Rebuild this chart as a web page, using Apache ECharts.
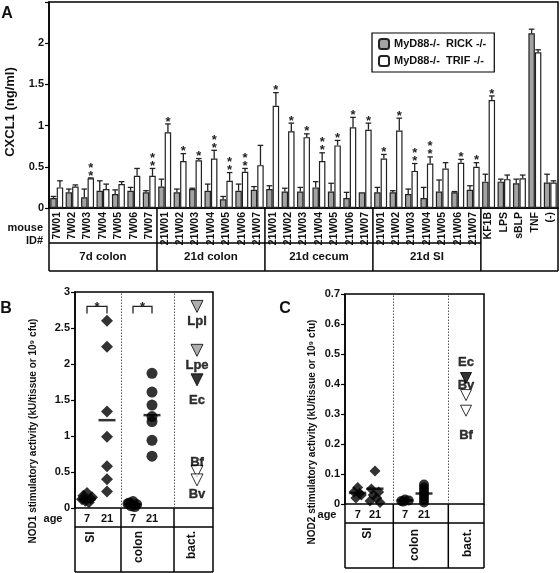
<!DOCTYPE html>
<html><head><meta charset="utf-8">
<script src="https://cdn.jsdelivr.net/npm/echarts@6/dist/echarts.min.js"></script>
<style>html,body{margin:0;padding:0;background:#fff}#c{width:560px;height:573px}</style>
</head><body><div id="c"></div>
<script>
// ---------- Panel A data ----------
const idLabels = ['7W01','7W02','7W03','7W04','7W05','7W06','7W07',
 '21W01','21W02','21W03','21W04','21W05','21W06','21W07',
 '21W01','21W02','21W03','21W04','21W05','21W06','21W07',
 '21W01','21W02','21W03','21W04','21W05','21W06','21W07',
 'KF1B','LPS','sBLP','TNF','(-)'];
const groupLabels = ['7d colon','21d colon','21d cecum','21d SI'];
const groupSizes = [7,7,7,7];
const seriesNames = ['MyD88-/-  RICK -/-','MyD88-/-  TRIF -/-'];
const rickValues = [0.12,0.19,0.13,0.21,0.17,0.21,0.19, 0.26,0.19,0.23,0.21,0.105,0.21,0.22,
 0.23,0.20,0.20,0.25,0.20,0.12,0.19, 0.19,0.19,0.17,0.12,0.20,0.19,0.22, 0.32,0.32,0.30,2.12,0.31];
const rickSd = [0.02,0.04,0.10,0.12,0.05,0.04,0.02, 0.09,0.04,0.01,0.08,0.035,0.08,0.04,
 0.04,0.04,0.05,0.07,0.10,0.07,0.0, 0.06,0.02,0.06,0.13,0.14,0.01,0.05, 0.09,0.03,0.05,0.05,0.10];
const trifValues = [0.25,0.26,0.36,0.23,0.29,0.39,0.39, 0.92,0.57,0.58,0.60,0.33,0.44,0.52,
 1.24,0.93,0.86,0.57,0.76,0.98,0.95, 0.60,0.94,0.45,0.54,0.48,0.55,0.50, 1.31,0.35,0.36,1.89,0.31];
const trifSd = [0.08,0.02,0.005,0.06,0.03,0.09,0.09, 0.10,0.09,0.02,0.10,0.10,0.04,0.24,
 0.16,0.10,0.04,0.10,0.06,0.12,0.08, 0.05,0.15,0.09,0.08,0.07,0.04,0.05, 0.05,0.05,0.04,0.03,0.02];
const trifStars = [0,0,2,0,0,0,2, 1,1,1,2,2,2,0, 1,1,1,2,1,1,1, 1,1,2,2,0,1,1, 1,0,0,0,0];
const yTicksA = [0,0.5,1,1.5,2];

// ---------- Panel B data (NOD1) ----------
const nod1SI7 = [0.21,0.17,0.13,0.10,0.08,0.12,0.15];
const nod1SI21 = [2.60,2.24,1.34,0.99,0.58,0.40,0.23];
const nod1Colon7 = [0.09,0.07,0.05,0.03,0.02,0.06];
const nod1Colon21 = [1.87,1.61,1.43,1.27,1.20,0.94,0.72];
const nod1Means = [0.12,1.22,0.05,1.29];
const bactNamesB = ['Lpl','Lpe','Ec','Bf','Bv'];
const bactValuesB = [2.80,2.19,1.78,0.51,0.39];
const bactFillB = ['#9a9a9a','#9a9a9a','#000000','#ffffff','#ffffff'];
const bracketLevelB = [2.8,2.8];

// ---------- Panel C data (NOD2) ----------
const nod2SI7 = [0.055,0.04,0.03,0.02,0.035];
const nod2SI21 = [0.11,0.05,0.04,0.03,0.02,0.01,0.005];
const nod2Colon7 = [0.015,0.01,0.012,0.008];
const nod2Colon21 = [0.065,0.055,0.045,0.035,0.025,0.015,0.005];
const nod2Means = [0.037,0.051,0.012,0.035];
const bactNamesC = ['Ec','Bv','Bf'];
const bactValuesC = [0.42,0.363,0.311];
const bactFillC = ['#000000','#ffffff','#ffffff'];

const ageLabels = ['7','21'];
const tissueLabels = ['SI','colon','bact.'];

// ---------- layout ----------
const F = '"Liberation Sans", Arial, Helvetica, sans-serif';
const INK = '#222';
const GA = {left:49, top:2, width:509, height:206};
const GB = {left:75, top:292, width:138, height:216};
const GC = {left:345, top:294, width:139, height:210};
const posB = {si7:0.6, si21:1.6, sep1:2.3, co7:2.9, co21:3.85, sep2:4.95, bact:6.1, max:6.9};
const posC = {si7:0.635, si21:1.5, sep1:2.415, co7:3.0, co21:3.95, sep2:5.165, bact:6.05, max:6.95};
const BARW = 0.42;
const jit = [0,-0.18,0.18,-0.09,0.09,-0.25,0.25];

const chart = echarts.init(document.getElementById('c'), null, {renderer:'canvas'});

function errRender(params, api){
  const i = api.value(0), v = api.value(1), sd = api.value(2), side = api.value(3), st = api.value(4);
  const bw = api.size([1,0])[0]*BARW;
  const c = api.coord([i, v]);
  const t = api.coord([i, v+sd]);
  const x = c[0] + (side===0 ? -bw/2 : bw/2);
  const ch = [];
  const ls = {stroke:INK, lineWidth:1.3};
  if (sd > 0.003) {
    ch.push({type:'line', shape:{x1:x,y1:c[1],x2:x,y2:t[1]}, style:ls});
    ch.push({type:'line', shape:{x1:x-2.8,y1:t[1],x2:x+2.8,y2:t[1]}, style:ls});
  }
  for (let k=0;k<st;k++){
    ch.push({type:'text', style:{text:'*', x:x, y:t[1]-2-k*8, align:'center', verticalAlign:'middle', font:'bold 13px '+F, fill:INK}});
  }
  return {type:'group', children:ch};
}

function bracketRender(params, api){
  const a = api.coord([api.value(0), api.value(2)]);
  const b = api.coord([api.value(1), api.value(2)]);
  const leg = 7;
  return {type:'group', children:[
    {type:'polyline', shape:{points:[[a[0],a[1]+leg],[a[0],a[1]],[b[0],b[1]],[b[0],b[1]+leg]]}, style:{stroke:INK, lineWidth:1.3, fill:null}},
    {type:'text', style:{text:'*', x:(a[0]+b[0])/2, y:a[1]+1, align:'center', verticalAlign:'middle', font:'bold 13px '+F, fill:INK}}
  ]};
}

function dots(gi, x, vals, symbol, size, useJit){
  return {type:'scatter', xAxisIndex:gi, yAxisIndex:gi, symbol:symbol, symbolSize:size, silent:true, z:4,
    itemStyle:{color:'#000'}, data: vals.map((v,k)=>[x + (useJit? jit[k%jit.length]:0), v])};
}
function means(gi, xs, vals){
  return {type:'scatter', xAxisIndex:gi, yAxisIndex:gi, symbol:'rect', symbolSize:[17,2.5], silent:true, z:5,
    itemStyle:{color:'#000'}, data: vals.map((v,k)=>[xs[k], v])};
}

const labelB = {
  Lpl:{position:'bottom', distance:2}, Lpe:{position:'bottom', distance:2}, Ec:{position:'bottom', distance:8},
  Bf:{position:'top', distance:-4}, Bv:{position:'bottom', distance:2}
};
const labelC = {
  Ec:{position:'top', distance:3}, Bv:{position:'top', distance:-3}, Bf:{position:'bottom', distance:12}
};
function bactSeries(gi, x, names, vals, fills, lab, size){
  return {type:'scatter', xAxisIndex:gi, yAxisIndex:gi, symbol:'triangle', symbolRotate:180, symbolSize:size, silent:true, z:4,
    data: names.map((n,k)=>({name:n, value:[x, vals[k]], itemStyle:{color:fills[k], borderColor:'#000', borderWidth:1},
      label:Object.assign({show:true, formatter:n, color:'#000', textBorderColor:'#000', textBorderWidth:0.4,
        fontFamily:F, fontWeight:'bold', fontSize:13}, lab[n])})),
    markLine:{silent:true, symbol:'none', label:{show:false}, animation:false,
      lineStyle:{type:[1.5,1.5], color:'#555', width:1},
      data: gi===1 ? [{xAxis:posB.sep1},{xAxis:posB.sep2}] : [{xAxis:posC.sep1},{xAxis:posC.sep2}]}
  };
}

const valAxisCommon = {
  type:'value', axisLine:{show:true, lineStyle:{color:'#000', width:1.5}},
  axisTick:{show:true, inside:false, length:4, lineStyle:{color:'#000', width:1.2}},
  splitLine:{show:false},
  axisLabel:{color:'#111', fontFamily:F, fontWeight:'bold', fontSize:11, margin:5}
};

const option = {
  animation:false,
  backgroundColor:'#fff',
  grid:[
    Object.assign({show:true, borderColor:'#000', borderWidth:1.5, backgroundColor:'transparent'}, GA),
    Object.assign({show:true, borderColor:'#000', borderWidth:1.5, backgroundColor:'transparent'}, GB),
    Object.assign({show:true, borderColor:'#000', borderWidth:1.5, backgroundColor:'transparent'}, GC)
  ],
  legend:{
    data:seriesNames, orient:'vertical', left:372, top:33, itemWidth:10, itemHeight:10, itemGap:5,
    padding:[5,8,5,6], borderColor:'#000', borderWidth:1.2, backgroundColor:'#fff',
    textStyle:{fontFamily:F, fontWeight:'bold', fontSize:11, color:'#111'}
  },
  xAxis:[
    {type:'category', gridIndex:0, data:idLabels, boundaryGap:true,
     axisLine:{show:true, lineStyle:{color:'#000', width:1.5}}, axisTick:{show:false},
     axisLabel:{interval:0, rotate:90, margin:4, color:'#111', fontFamily:F, fontWeight:'bold', fontSize:10.5}},
    {type:'value', gridIndex:1, min:0, max:posB.max, show:false},
    {type:'value', gridIndex:2, min:0, max:posC.max, show:false}
  ],
  yAxis:[
    Object.assign({}, valAxisCommon, {gridIndex:0, min:0, max:2.5, interval:0.5,
      axisLabel:Object.assign({}, valAxisCommon.axisLabel, {formatter:v => yTicksA.indexOf(v)>=0 ? String(v) : ''})}),
    Object.assign({}, valAxisCommon, {gridIndex:1, min:0, max:3, interval:0.5}),
    Object.assign({}, valAxisCommon, {gridIndex:2, min:0, max:0.7, interval:0.1})
  ],
  series:[
    {name:seriesNames[0], type:'bar', xAxisIndex:0, yAxisIndex:0, data:rickValues, barWidth:(BARW*100)+'%', barGap:'0%',
     itemStyle:{color:'#a3a3a3', borderColor:INK, borderWidth:1.2}, silent:true},
    {name:seriesNames[1], type:'bar', xAxisIndex:0, yAxisIndex:0, data:trifValues, barWidth:(BARW*100)+'%', barGap:'0%',
     itemStyle:{color:'#ffffff', borderColor:INK, borderWidth:1.2}, silent:true},
    {type:'custom', xAxisIndex:0, yAxisIndex:0, renderItem:errRender, silent:true, z:5,
     data: rickValues.map((v,i)=>[i, v, rickSd[i], 0, 0]).concat(trifValues.map((v,i)=>[i, v, trifSd[i], 1, trifStars[i]]))},
    // Panel B
    dots(1, posB.si7, nod1SI7, 'diamond', 12, true),
    dots(1, posB.si21, nod1SI21, 'diamond', 12, false),
    dots(1, posB.co7, nod1Colon7, 'circle', 11, true),
    dots(1, posB.co21, nod1Colon21, 'circle', 11, false),
    means(1, [posB.si7, posB.si21, posB.co7, posB.co21], nod1Means),
    bactSeries(1, posB.bact, bactNamesB, bactValuesB, bactFillB, labelB, 12),
    {type:'custom', xAxisIndex:1, yAxisIndex:1, renderItem:bracketRender, silent:true, z:5, clip:false,
     data:[[posB.si7, posB.si21, bracketLevelB[0]], [posB.co7, posB.co21, bracketLevelB[1]]]},
    // Panel C
    dots(2, posC.si7, nod2SI7, 'diamond', 11, true),
    dots(2, posC.si21, nod2SI21, 'diamond', 11, true),
    dots(2, posC.co7, nod2Colon7, 'circle', 10, true),
    dots(2, posC.co21, nod2Colon21, 'circle', 10, false),
    means(2, [posC.si7, posC.si21, posC.co7, posC.co21], nod2Means),
    bactSeries(2, posC.bact, bactNamesC, bactValuesC, bactFillC, labelC, 11)
  ]
};
chart.setOption(option);

// ---------- tables and titles (graphic) ----------
const g = [];
const lineSt = {stroke:'#000', lineWidth:1.5};
function L(x1,y1,x2,y2){ g.push({type:'line', silent:true, shape:{x1,y1,x2,y2}, style:lineSt}); }
function T(text,x,y,size,opts){
  g.push(Object.assign({type:'text', silent:true, x:x, y:y,
    style:Object.assign({text:text, font:'bold '+size+'px '+F, fill:'#111', align:'center', verticalAlign:'middle'}, (opts&&opts.style)||{})},
    opts&&opts.rotation!==undefined?{rotation:opts.rotation}:{}));
}
// Panel A table
const aBottom = GA.top + GA.height;      // 208
const aRow1 = 243, aRow2 = 271;
const nCat = idLabels.length;
const catW = GA.width / nCat;
let acc = 0;
const bounds = [GA.left];
groupSizes.forEach(s => { acc += s; bounds.push(GA.left + acc*catW); });
L(GA.left, aBottom, GA.left, aRow2);
L(GA.left + GA.width, aBottom, GA.left + GA.width, aRow2);
bounds.slice(1).forEach(x => L(x, aBottom, x, aRow2));
L(GA.left, aRow1, bounds[bounds.length-1], aRow1);
L(GA.left, aRow2, GA.left + GA.width, aRow2);
groupLabels.forEach((name,k)=> T(name, (bounds[k]+bounds[k+1])/2, (aRow1+aRow2)/2, 11.5));
T('mouse', 43, 228, 11, {style:{align:'right'}});
T('ID#', 43, 241, 11, {style:{align:'right'}});
T('A', 7, 14, 16);
T('CXCL1 (ng/ml)', 10, 112, 13, {rotation:Math.PI/2});

// Panels B and C tables
function panelTable(gi, G, pos, row1, row2, tissueXY, ageLabelX){
  const bottom = G.top + G.height;
  const px = v => chart.convertToPixel({xAxisIndex:gi}, v);
  const s1 = px(pos.sep1), s2 = px(pos.sep2);
  L(G.left, bottom, G.left, row2);
  L(G.left+G.width, bottom, G.left+G.width, row2);
  L(s1, bottom, s1, row2); L(s2, bottom, s2, row2);
  L(G.left, row1, G.left+G.width, row1);
  L(G.left, row2, G.left+G.width, row2);
  const ym = (bottom+row1)/2 + 1;
  T(ageLabels[0], px(pos.si7), ym, 11); T(ageLabels[1], px(pos.si21), ym, 11);
  T(ageLabels[0], px(pos.co7), ym, 11); T(ageLabels[1], px(pos.co21), ym, 11);
  T('age', ageLabelX, ym, 11);
  tissueLabels.forEach((t,k)=> T(t, tissueXY[k][0], tissueXY[k][1], 12, {rotation:Math.PI/2}));
}
panelTable(1, GB, posB, 527, 572, [[91,537],[139,547],[192,545]], 53);
panelTable(2, GC, posC, 523, 568, [[368,533],[415,545],[468,543]], 327);
T('B', 6, 309, 16);
T('C', 285, 309, 16);
T('NOD1 stimulatory activity (kU/tissue or 10\u2079 cfu)', 33, 431, 10, {rotation:Math.PI/2});
T('NOD2 stimulatory activity (kU/tissue or 10\u2079 cfu)', 312, 432, 10, {rotation:Math.PI/2});

chart.setOption({graphic:{elements:g}});
</script></body></html>
